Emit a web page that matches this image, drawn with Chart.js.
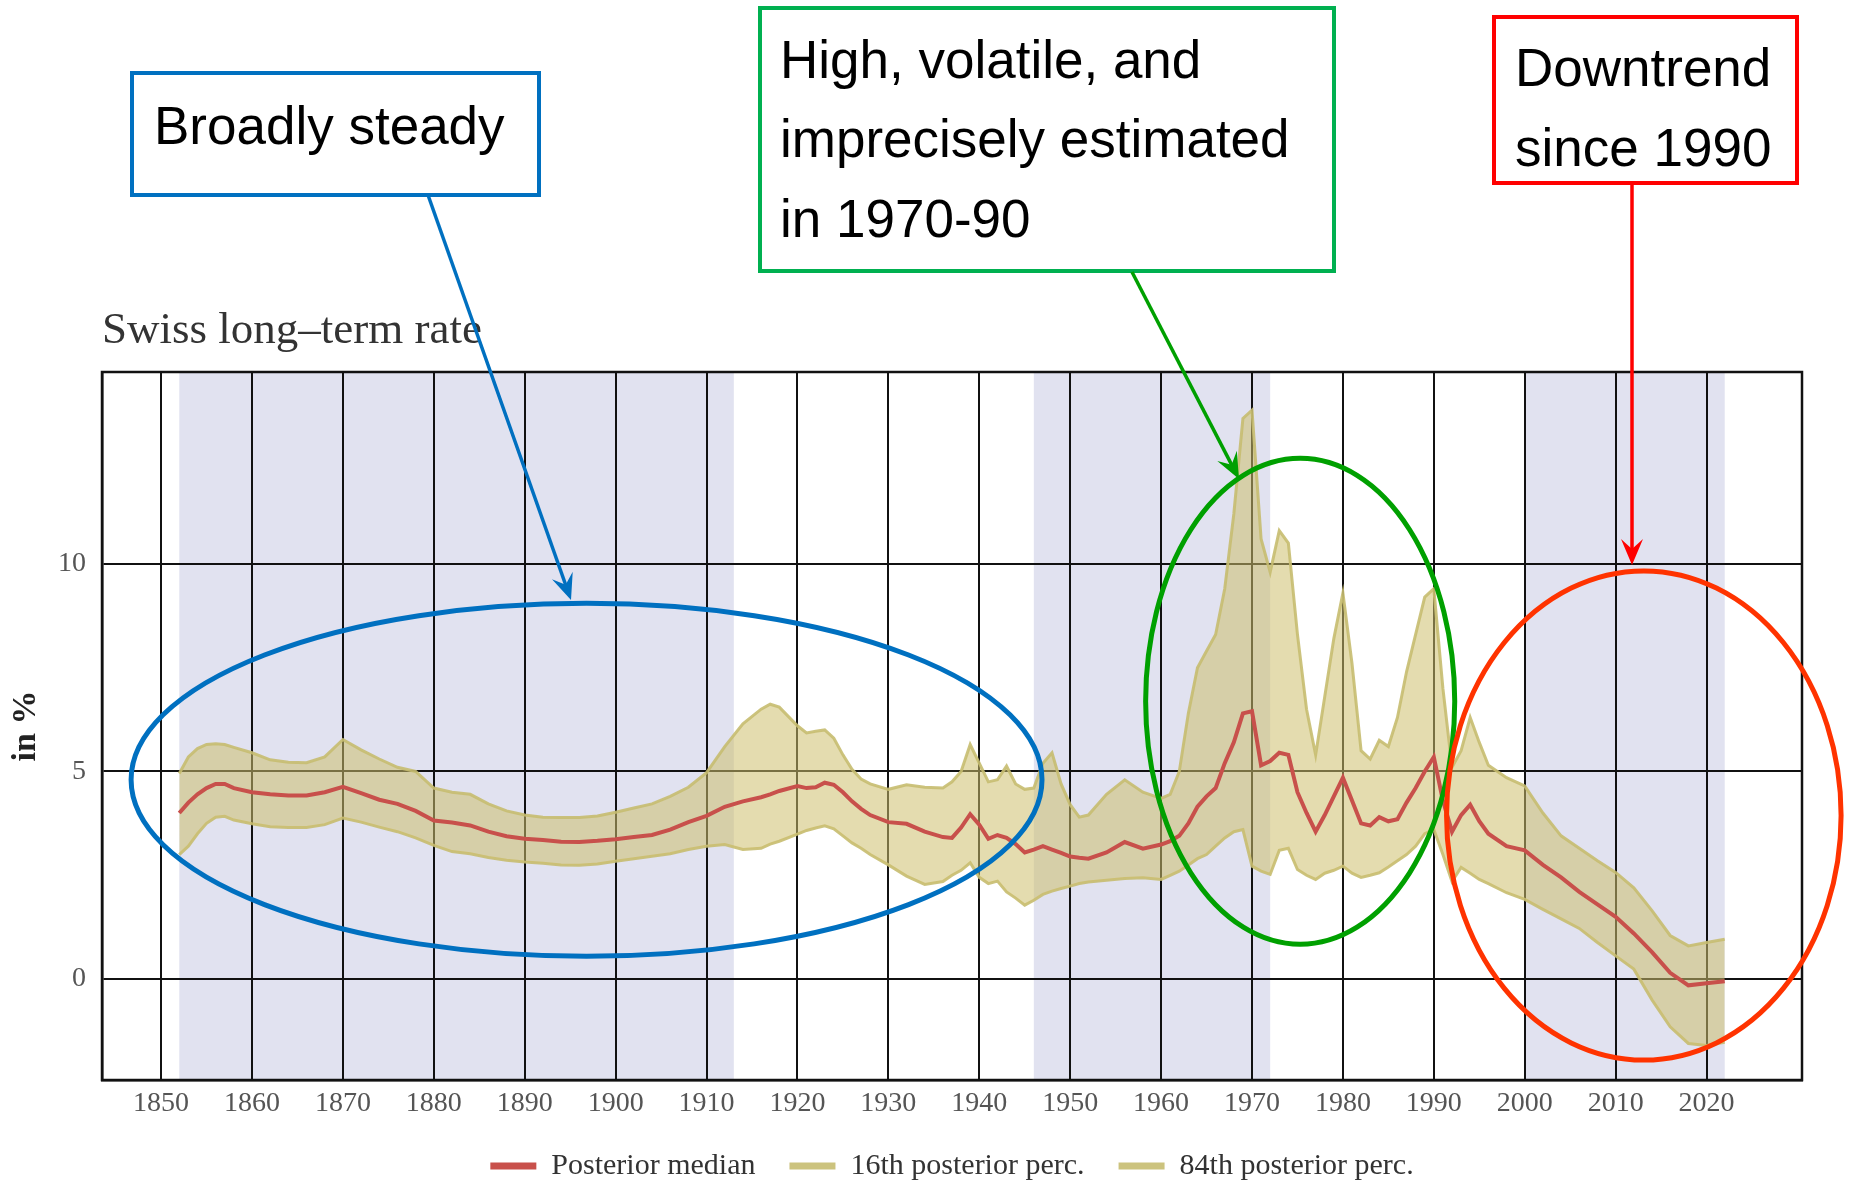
<!DOCTYPE html>
<html>
<head>
<meta charset="utf-8">
<title>Swiss long-term rate</title>
<script src="https://cdn.jsdelivr.net/npm/chart.js@4.4.1/dist/chart.umd.min.js"></script>
<style>
    html, body { margin: 0; padding: 0; background: #fff; }
    #wrap { width: 1853px; height: 1183px; }
</style>
</head>
<body>
<div id="wrap"><canvas id="rateChart" width="1853" height="1183"></canvas></div>
<script>
const years = [
    1852, 1853, 1854, 1855, 1856, 1857, 1858, 1860, 1862, 1864,
    1866, 1868, 1870, 1872, 1874, 1876, 1878, 1880, 1882, 1884,
    1886, 1888, 1890, 1892, 1894, 1896, 1898, 1900, 1902, 1904,
    1906, 1908, 1910, 1912, 1914, 1916, 1917, 1918, 1920, 1921,
    1922, 1923, 1924, 1925, 1926, 1927, 1928, 1930, 1932, 1934,
    1936, 1937, 1938, 1939, 1940, 1941, 1942, 1943, 1944, 1945,
    1946, 1947, 1948, 1949, 1950, 1951, 1952, 1954, 1956, 1958,
    1960, 1961, 1962, 1963, 1964, 1965, 1966, 1967, 1968, 1969,
    1970, 1971, 1972, 1973, 1974, 1975, 1976, 1977, 1978, 1979,
    1980, 1981, 1982, 1983, 1984, 1985, 1986, 1987, 1988, 1989,
    1990, 1991, 1992, 1993, 1994, 1995, 1996, 1998, 2000, 2002,
    2004, 2006, 2008, 2010, 2012, 2014, 2016, 2018, 2020, 2022
];

// posterior median (in %)
const median = [
    4.0, 4.25, 4.45, 4.6, 4.7, 4.7, 4.6, 4.5, 4.45, 4.42,
    4.42, 4.5, 4.63, 4.48, 4.32, 4.22, 4.05, 3.82, 3.77, 3.7,
    3.55, 3.44, 3.38, 3.35, 3.31, 3.3, 3.33, 3.37, 3.42, 3.47,
    3.6, 3.78, 3.93, 4.15, 4.28, 4.38, 4.45, 4.53, 4.65, 4.6,
    4.62, 4.73, 4.68, 4.5, 4.28, 4.1, 3.95, 3.78, 3.74, 3.55,
    3.42, 3.4, 3.65, 3.97, 3.72, 3.38, 3.47, 3.4, 3.25, 3.05,
    3.12, 3.2, 3.12, 3.04, 2.95, 2.92, 2.9, 3.05, 3.3, 3.14,
    3.24, 3.32, 3.45, 3.75, 4.15, 4.4, 4.6, 5.2, 5.7, 6.4,
    6.45, 5.15, 5.25, 5.45, 5.4, 4.5, 4.0, 3.55, 3.95, 4.4,
    4.85, 4.3, 3.75, 3.7, 3.9, 3.8, 3.85, 4.25, 4.6, 5.0,
    5.35, 4.3, 3.55, 3.95, 4.2, 3.8, 3.5, 3.2, 3.1, 2.75,
    2.45, 2.1, 1.8, 1.5, 1.1, 0.65, 0.15, -0.15, -0.1, -0.05
];

// 16th posterior percentile
const perc16 = [
    3.0, 3.2, 3.5, 3.75, 3.9, 3.92, 3.83, 3.74, 3.67, 3.65,
    3.65, 3.72, 3.88, 3.78, 3.66, 3.55, 3.4, 3.22, 3.07, 3.02,
    2.93, 2.86, 2.82, 2.79, 2.75, 2.74, 2.77, 2.84, 2.9, 2.96,
    3.02, 3.12, 3.2, 3.24, 3.12, 3.15, 3.25, 3.32, 3.49, 3.58,
    3.64, 3.69, 3.62, 3.45, 3.28, 3.15, 3.0, 2.75, 2.48, 2.28,
    2.35, 2.5, 2.62, 2.8, 2.45, 2.3, 2.36, 2.1, 1.95, 1.78,
    1.9, 2.04, 2.12, 2.18, 2.24, 2.3, 2.34, 2.38, 2.42, 2.44,
    2.4, 2.5, 2.6, 2.75, 2.9, 3.0, 3.2, 3.4, 3.55, 3.6,
    2.72, 2.6, 2.52, 3.1, 3.15, 2.64, 2.5, 2.4, 2.55, 2.62,
    2.72, 2.55, 2.45, 2.5, 2.56, 2.7, 2.85, 3.0, 3.2, 3.5,
    3.6, 3.0, 2.35, 2.69, 2.55, 2.4, 2.3, 2.08, 1.92, 1.68,
    1.45, 1.22, 0.88, 0.56, 0.24, -0.5, -1.15, -1.55, -1.6, -1.52
];

// 84th posterior percentile
const perc84 = [
    4.95, 5.35, 5.55, 5.65, 5.67, 5.65, 5.58, 5.45, 5.28, 5.22,
    5.21, 5.35, 5.77, 5.52, 5.3, 5.1, 5.0, 4.6, 4.5, 4.45,
    4.22, 4.05, 3.95, 3.9, 3.89, 3.89, 3.93, 4.02, 4.12, 4.22,
    4.4, 4.62, 4.97, 5.6, 6.15, 6.5, 6.62, 6.55, 6.1, 5.93,
    5.97, 6.0, 5.8, 5.4, 5.05, 4.82, 4.7, 4.57, 4.68, 4.62,
    4.6, 4.75, 5.0, 5.65, 5.2, 4.75, 4.8, 5.13, 4.7, 4.57,
    4.6, 5.2, 5.45, 4.7, 4.2, 3.9, 3.95, 4.45, 4.8, 4.5,
    4.35, 4.45, 5.0, 6.4, 7.5, 7.9, 8.3, 9.4, 11.2, 13.5,
    13.7, 10.6, 9.8, 10.8, 10.5, 8.3, 6.5, 5.4, 6.8, 8.2,
    9.3, 7.6, 5.5, 5.3, 5.75, 5.6, 6.3, 7.4, 8.3, 9.2,
    9.4, 7.0, 5.1, 5.5, 6.3, 5.7, 5.15, 4.85, 4.65, 4.0,
    3.45, 3.15, 2.85, 2.57, 2.2, 1.65, 1.05, 0.8, 0.88, 0.96
];

const xTicks = [1850, 1860, 1870, 1880, 1890, 1900, 1910, 1920, 1930,
    1940, 1950, 1960, 1970, 1980, 1990, 2000, 2010, 2020];
const yTicks = [0, 5, 10];

// shaded periods
const shadeFrom = [1852, 1946, 2000];
const shadeTo = [1913, 1972, 2022];

// callouts drawn over the chart
const noteBoxes = [
    { lines: ['Broadly steady'], color: '#0070c0', x: 132, y: 73, w: 407, h: 122, textX: 154, lineY: [129] },
    { lines: ['High, volatile, and', 'imprecisely estimated', 'in 1970-90'], color: '#00b050', x: 760, y: 8, w: 574, h: 263, textX: 780, lineY: [63, 142, 222] },
    { lines: ['Downtrend', 'since 1990'], color: '#ff0000', x: 1494, y: 17, w: 303, h: 166, textX: 1515, lineY: [71, 151] }
];
const noteArrows = [
    { from: [428, 195], to: [571, 600], color: '#0070c0' },
    { from: [1132, 272], to: [1239, 479], color: '#00a000' },
    { from: [1632, 183], to: [1632, 565], color: '#ff0000' }
];
// ellipses in data units: centre year, centre value, half width (years), half height (%)
const noteRings = [
    { cx: 1896.8, cy: 4.8, rx: 50.1, ry: 4.25, color: '#0070c0' },
    { cx: 1975.3, cy: 6.69, rx: 17.0, ry: 5.85, color: '#00a000' },
    { cx: 2013.1, cy: 3.94, rx: 21.7, ry: 5.89, color: '#ff3300' }
];

const serif = "'Liberation Serif', 'Times New Roman', serif";
const sans = "'Liberation Sans', Arial, sans-serif";

function pairs(values) {
    return years.map((yr, i) => ({ x: yr, y: values[i] }));
}

function drawArrow(ctx, x1, y1, x2, y2, color) {
    const ang = Math.atan2(y2 - y1, x2 - x1);
    const head = 26, wing = 11;
    ctx.strokeStyle = color;
    ctx.fillStyle = color;
    ctx.lineWidth = 3.5;
    ctx.beginPath();
    ctx.moveTo(x1, y1);
    ctx.lineTo(x2 - Math.cos(ang) * head * 0.6, y2 - Math.sin(ang) * head * 0.6);
    ctx.stroke();
    ctx.save();
    ctx.translate(x2, y2);
    ctx.rotate(ang);
    ctx.beginPath();
    ctx.moveTo(0, 0);
    ctx.lineTo(-head, -wing);
    ctx.lineTo(-head * 0.62, 0);
    ctx.lineTo(-head, wing);
    ctx.closePath();
    ctx.fill();
    ctx.restore();
}

// background shading, frame, title and callouts
const decorations = {
    id: 'decorations',
    beforeDraw(chart) {
        const { ctx, chartArea: a, scales: { x } } = chart;
        ctx.save();
        ctx.fillStyle = '#ffffff';
        ctx.fillRect(0, 0, chart.width, chart.height);
        ctx.fillStyle = '#e1e2f0';
        shadeFrom.forEach((s, i) => {
            const l = x.getPixelForValue(s);
            const r = x.getPixelForValue(shadeTo[i]);
            ctx.fillRect(l, a.top, r - l, a.bottom - a.top);
        });
        ctx.restore();
    },
    afterDraw(chart) {
        const { ctx, chartArea: a, scales: { x, y } } = chart;
        ctx.save();

        // frame round the plot
        ctx.strokeStyle = '#111';
        ctx.lineWidth = 2.5;
        ctx.strokeRect(a.left, a.top, a.right - a.left, a.bottom - a.top);

        // chart title
        ctx.fillStyle = '#333';
        ctx.font = '45px ' + serif;
        ctx.textBaseline = 'middle';
        ctx.textAlign = 'left';
        ctx.fillText('Swiss long\u2013term rate', a.left, 331);

        // ellipses
        noteRings.forEach(r => {
            const cx = x.getPixelForValue(r.cx);
            const cy = y.getPixelForValue(r.cy);
            const rx = x.getPixelForValue(r.cx + r.rx) - cx;
            const ry = cy - y.getPixelForValue(r.cy + r.ry);
            ctx.strokeStyle = r.color;
            ctx.lineWidth = 5;
            ctx.beginPath();
            ctx.ellipse(cx, cy, rx, ry, 0, 0, Math.PI * 2);
            ctx.stroke();
        });

        // text boxes
        noteBoxes.forEach(b => {
            ctx.fillStyle = '#fff';
            ctx.fillRect(b.x, b.y, b.w, b.h);
            ctx.strokeStyle = b.color;
            ctx.lineWidth = 4;
            ctx.strokeRect(b.x, b.y, b.w, b.h);
            ctx.fillStyle = '#000';
            ctx.font = '53px ' + sans;
            b.lines.forEach((t, i) => ctx.fillText(t, b.textX, b.lineY[i]));
        });

        noteArrows.forEach(n => drawArrow(ctx, n.from[0], n.from[1], n.to[0], n.to[1], n.color));
        ctx.restore();
    }
};

const bandLine = 'rgba(198, 188, 112, 0.9)';
const bandFill = 'rgba(205, 192, 110, 0.55)';

new Chart(document.getElementById('rateChart').getContext('2d'), {
    type: 'line',
    data: {
        datasets: [
            {
                label: 'Posterior median',
                data: pairs(median),
                borderColor: '#c8504b',
                borderWidth: 4,
                fill: false,
                order: 0
            },
            {
                label: '16th posterior perc.',
                data: pairs(perc16),
                borderColor: bandLine,
                backgroundColor: bandFill,
                borderWidth: 3,
                fill: false,
                order: 2
            },
            {
                label: '84th posterior perc.',
                data: pairs(perc84),
                borderColor: bandLine,
                backgroundColor: bandFill,
                borderWidth: 3,
                fill: '-1',
                order: 1
            }
        ]
    },
    options: {
        responsive: false,
        devicePixelRatio: 1,
        animation: false,
        elements: {
            point: { radius: 0 },
            line: { tension: 0 }
        },
        layout: {
            padding: { top: 372, right: 51, left: 0, bottom: -8 }
        },
        plugins: {
            title: { display: false },
            tooltip: { enabled: false },
            legend: {
                position: 'bottom',
                fullSize: false,
                labels: {
                    font: { family: serif, size: 30 },
                    color: '#333',
                    boxWidth: 46,
                    boxHeight: 7,
                    padding: 34,
                    sort: (a, b) => a.datasetIndex - b.datasetIndex,
                    generateLabels(chart) {
                        const items = Chart.defaults.plugins.legend.labels.generateLabels(chart);
                        items.forEach(it => {
                            const ds = chart.data.datasets[it.datasetIndex];
                            it.fillStyle = ds.borderColor;
                            it.strokeStyle = ds.borderColor;
                            it.lineWidth = 0;
                        });
                        return items;
                    }
                }
            }
        },
        scales: {
            x: {
                type: 'linear',
                min: 1843.5,
                max: 2030.5,
                afterBuildTicks(axis) {
                    axis.ticks = xTicks.map(v => ({ value: v }));
                },
                afterFit(axis) {
                    axis.height = 37;
                },
                grid: { color: '#111', lineWidth: 2, drawTicks: false },
                border: { color: '#111', width: 2.5 },
                ticks: {
                    color: '#555',
                    font: { family: serif, size: 28 },
                    padding: 7,
                    maxRotation: 0,
                    autoSkip: false,
                    callback: v => String(v)
                }
            },
            y: {
                min: -2.43,
                max: 14.62,
                afterBuildTicks(axis) {
                    axis.ticks = yTicks.map(v => ({ value: v }));
                },
                afterFit(axis) {
                    axis.width = 102;
                },
                grid: { color: '#111', lineWidth: 2, drawTicks: false },
                border: { color: '#111', width: 2.5 },
                ticks: {
                    color: '#555',
                    font: { family: serif, size: 28 },
                    padding: 16,
                    callback: v => String(v)
                },
                title: {
                    display: true,
                    text: 'in %',
                    color: '#222',
                    font: { family: serif, size: 34, weight: 'bold' },
                    padding: { top: 6, bottom: 0 }
                }
            }
        }
    },
    plugins: [decorations]
});
</script>
</body>
</html>
